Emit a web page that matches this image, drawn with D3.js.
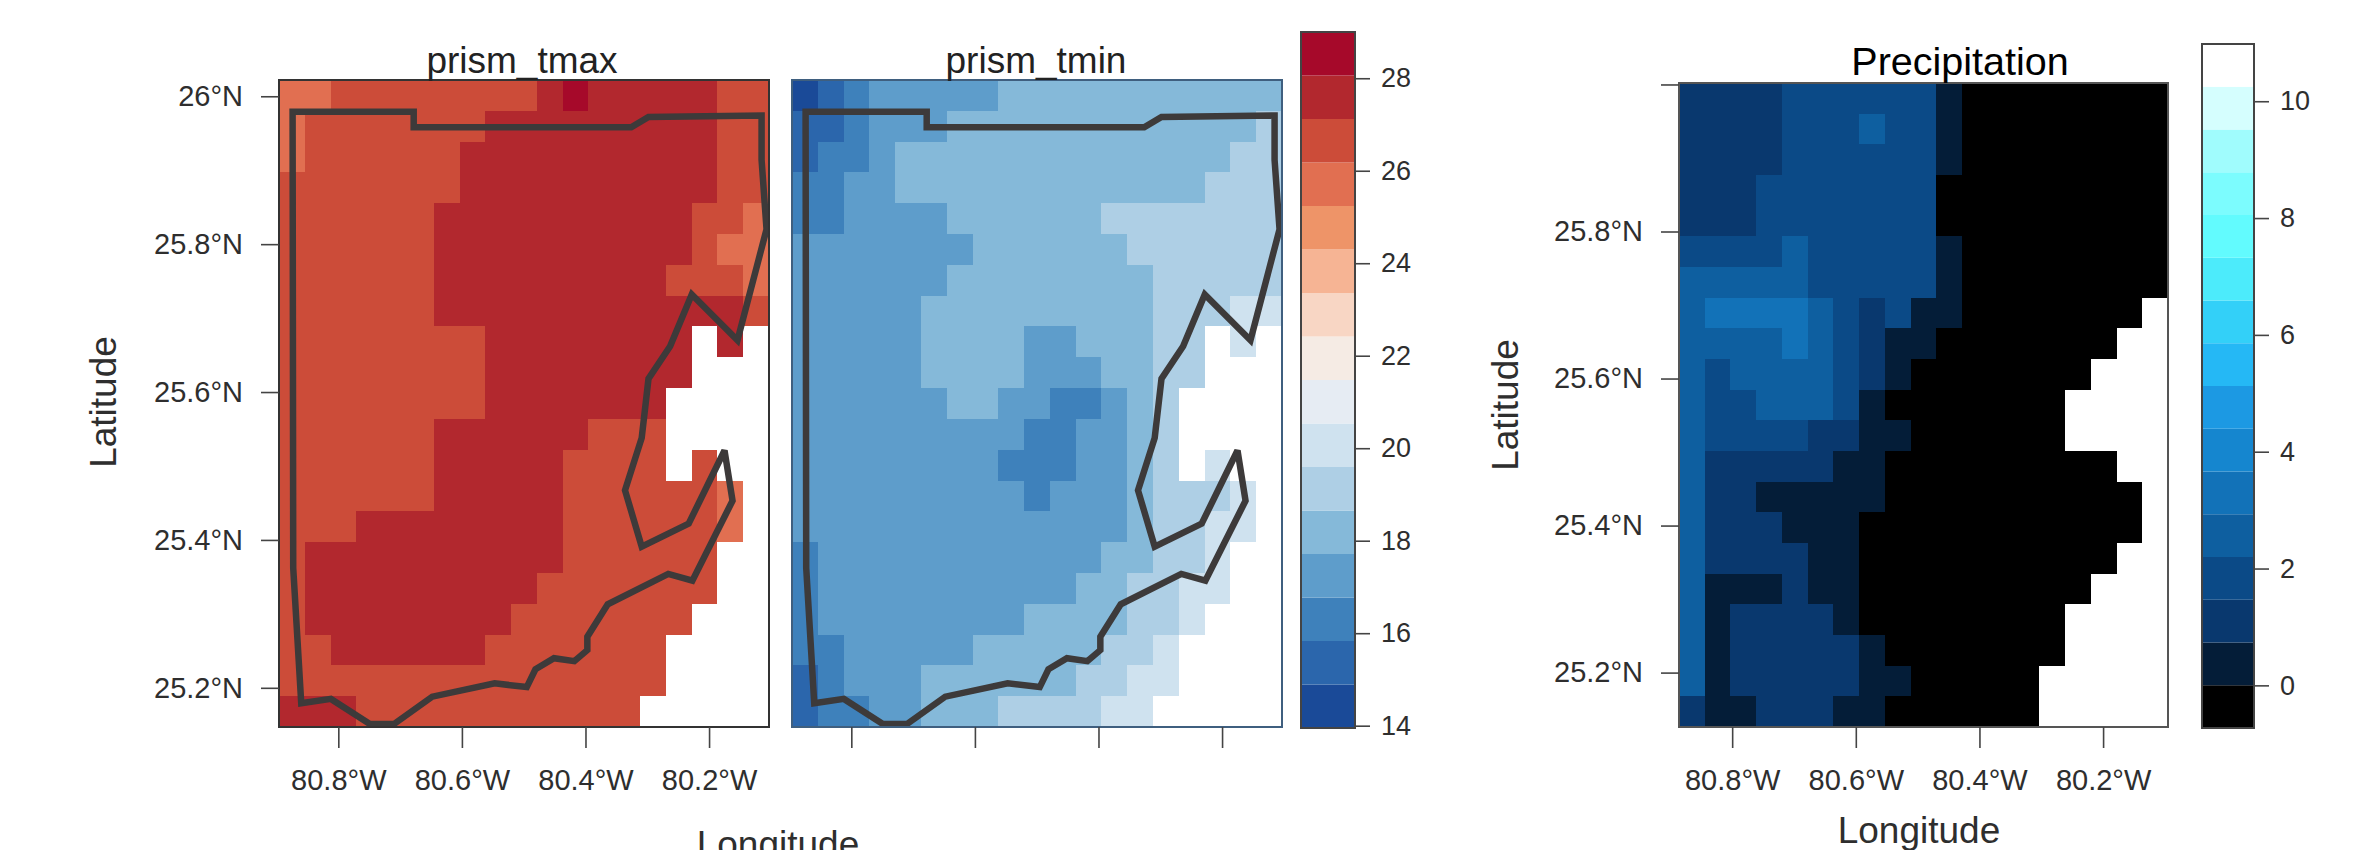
<!DOCTYPE html>
<html>
<head>
<meta charset="utf-8">
<script src="https://cdnjs.cloudflare.com/ajax/libs/d3/7.8.5/d3.min.js"></script>
<style>
  body { margin: 0; background: #fff; overflow: hidden; }
  text { font-family: "Liberation Sans", Arial, sans-serif; }
</style>
</head>
<body>
<script>
var latTicks = [26, 25.8, 25.6, 25.4, 25.2];
var lonTicks = [-80.8, -80.6, -80.4, -80.2];
var tempTicks = [14, 16, 18, 20, 22, 24, 26, 28];
var precipTicks = [0, 2, 4, 6, 8, 10];

var tempColors = ["#1a4a98", "#2b66ac", "#3e81bb", "#5e9dcb", "#85b9d9", "#aecfe5", "#cfe2ef", "#e6ecf3",
  "#f5ebe4", "#f8d6c4", "#f6b494", "#ee9468", "#e16f51", "#cc4c39", "#b2282e", "#a6092a"];
var precipColors = ["#000000", "#041d38", "#09386e", "#0b4a87", "#0e5fa0", "#1272b8", "#1586cf", "#1c99e3",
  "#25b8f5", "#33d0f8", "#4cebfb", "#62fbfe", "#7cfcfe", "#a0fcfd", "#d5fefe", "#ffffff"];

var tmax = [
  [25.7,25.7,26.7,26.7,26.7,26.7,26.7,26.7,26.7,26.7,27.6,28.5,27.6,27.6,27.6,27.6,27.6,26.7,26.7],
  [25.7,26.7,26.7,26.7,26.7,26.7,26.7,26.7,27.6,27.6,27.6,27.6,27.6,27.6,27.6,27.6,27.6,26.7,26.7],
  [25.7,26.7,26.7,26.7,26.7,26.7,26.7,27.6,27.6,27.6,27.6,27.6,27.6,27.6,27.6,27.6,27.6,26.7,26.7],
  [26.7,26.7,26.7,26.7,26.7,26.7,26.7,27.6,27.6,27.6,27.6,27.6,27.6,27.6,27.6,27.6,27.6,26.7,26.7],
  [26.7,26.7,26.7,26.7,26.7,26.7,27.6,27.6,27.6,27.6,27.6,27.6,27.6,27.6,27.6,27.6,26.7,26.7,25.7],
  [26.7,26.7,26.7,26.7,26.7,26.7,27.6,27.6,27.6,27.6,27.6,27.6,27.6,27.6,27.6,27.6,26.7,25.7,25.7],
  [26.7,26.7,26.7,26.7,26.7,26.7,27.6,27.6,27.6,27.6,27.6,27.6,27.6,27.6,27.6,26.7,26.7,26.7,25.7],
  [26.7,26.7,26.7,26.7,26.7,26.7,27.6,27.6,27.6,27.6,27.6,27.6,27.6,27.6,27.6,27.6,27.6,27.6,26.7],
  [26.7,26.7,26.7,26.7,26.7,26.7,26.7,26.7,27.6,27.6,27.6,27.6,27.6,27.6,27.6,27.6,null,27.6,null],
  [26.7,26.7,26.7,26.7,26.7,26.7,26.7,26.7,27.6,27.6,27.6,27.6,27.6,27.6,27.6,27.6,null,null,null],
  [26.7,26.7,26.7,26.7,26.7,26.7,26.7,26.7,27.6,27.6,27.6,27.6,27.6,27.6,27.6,null,null,null,null],
  [26.7,26.7,26.7,26.7,26.7,26.7,27.6,27.6,27.6,27.6,27.6,27.6,26.7,26.7,26.7,null,null,null,null],
  [26.7,26.7,26.7,26.7,26.7,26.7,27.6,27.6,27.6,27.6,27.6,26.7,26.7,26.7,26.7,null,26.7,null,null],
  [26.7,26.7,26.7,26.7,26.7,26.7,27.6,27.6,27.6,27.6,27.6,26.7,26.7,26.7,26.7,26.7,26.7,25.7,null],
  [26.7,26.7,26.7,27.6,27.6,27.6,27.6,27.6,27.6,27.6,27.6,26.7,26.7,26.7,26.7,26.7,26.7,25.7,null],
  [26.7,27.6,27.6,27.6,27.6,27.6,27.6,27.6,27.6,27.6,27.6,26.7,26.7,26.7,26.7,26.7,26.7,null,null],
  [26.7,27.6,27.6,27.6,27.6,27.6,27.6,27.6,27.6,27.6,26.7,26.7,26.7,26.7,26.7,26.7,26.7,null,null],
  [26.7,27.6,27.6,27.6,27.6,27.6,27.6,27.6,27.6,26.7,26.7,26.7,26.7,26.7,26.7,26.7,null,null,null],
  [26.7,26.7,27.6,27.6,27.6,27.6,27.6,27.6,26.7,26.7,26.7,26.7,26.7,26.7,26.7,null,null,null,null],
  [26.7,26.7,26.7,26.7,26.7,26.7,26.7,26.7,26.7,26.7,26.7,26.7,26.7,26.7,26.7,null,null,null,null],
  [27.6,27.6,27.6,26.7,26.7,26.7,26.7,26.7,26.7,26.7,26.7,26.7,26.7,26.7,null,null,null,null,null]
];

var tmin = [
  [14.5,15.4,16.3,17.3,17.3,17.3,17.3,17.3,18.2,18.2,18.2,18.2,18.2,18.2,18.2,18.2,18.2,18.2,18.2],
  [15.4,15.4,16.3,17.3,17.3,17.3,18.2,18.2,18.2,18.2,18.2,18.2,18.2,18.2,18.2,18.2,18.2,18.2,19.2],
  [15.4,16.3,16.3,17.3,18.2,18.2,18.2,18.2,18.2,18.2,18.2,18.2,18.2,18.2,18.2,18.2,18.2,19.2,19.2],
  [16.3,16.3,17.3,17.3,18.2,18.2,18.2,18.2,18.2,18.2,18.2,18.2,18.2,18.2,18.2,18.2,19.2,19.2,19.2],
  [16.3,16.3,17.3,17.3,17.3,17.3,18.2,18.2,18.2,18.2,18.2,18.2,19.2,19.2,19.2,19.2,19.2,19.2,19.2],
  [17.3,17.3,17.3,17.3,17.3,17.3,17.3,18.2,18.2,18.2,18.2,18.2,18.2,19.2,19.2,19.2,19.2,19.2,19.2],
  [17.3,17.3,17.3,17.3,17.3,17.3,18.2,18.2,18.2,18.2,18.2,18.2,18.2,18.2,19.2,19.2,19.2,19.2,19.2],
  [17.3,17.3,17.3,17.3,17.3,18.2,18.2,18.2,18.2,18.2,18.2,18.2,18.2,18.2,19.2,19.2,19.2,20.1,20.1],
  [17.3,17.3,17.3,17.3,17.3,18.2,18.2,18.2,18.2,17.3,17.3,18.2,18.2,18.2,19.2,19.2,null,20.1,null],
  [17.3,17.3,17.3,17.3,17.3,18.2,18.2,18.2,18.2,17.3,17.3,17.3,18.2,18.2,19.2,19.2,null,null,null],
  [17.3,17.3,17.3,17.3,17.3,17.3,18.2,18.2,17.3,17.3,16.3,16.3,17.3,18.2,19.2,null,null,null,null],
  [17.3,17.3,17.3,17.3,17.3,17.3,17.3,17.3,17.3,16.3,16.3,17.3,17.3,18.2,19.2,null,null,null,null],
  [17.3,17.3,17.3,17.3,17.3,17.3,17.3,17.3,16.3,16.3,16.3,17.3,17.3,18.2,19.2,null,20.1,null,null],
  [17.3,17.3,17.3,17.3,17.3,17.3,17.3,17.3,17.3,16.3,17.3,17.3,17.3,18.2,19.2,19.2,19.2,20.1,null],
  [17.3,17.3,17.3,17.3,17.3,17.3,17.3,17.3,17.3,17.3,17.3,17.3,17.3,18.2,19.2,19.2,20.1,20.1,null],
  [16.3,17.3,17.3,17.3,17.3,17.3,17.3,17.3,17.3,17.3,17.3,17.3,18.2,18.2,19.2,19.2,20.1,null,null],
  [16.3,17.3,17.3,17.3,17.3,17.3,17.3,17.3,17.3,17.3,17.3,18.2,18.2,19.2,19.2,20.1,20.1,null,null],
  [16.3,17.3,17.3,17.3,17.3,17.3,17.3,17.3,17.3,18.2,18.2,18.2,18.2,19.2,19.2,20.1,null,null,null],
  [16.3,16.3,17.3,17.3,17.3,17.3,17.3,18.2,18.2,18.2,18.2,18.2,19.2,19.2,20.1,null,null,null,null],
  [15.4,16.3,17.3,17.3,17.3,18.2,18.2,18.2,18.2,18.2,18.2,19.2,19.2,20.1,20.1,null,null,null,null],
  [15.4,16.3,16.3,17.3,17.3,18.2,18.2,18.2,19.2,19.2,19.2,19.2,20.1,20.1,null,null,null,null,null]
];

var precip = [
  [1.1,1.1,1.1,1.1,1.8,1.8,1.8,1.8,1.8,1.8,0.4,0,0,0,0,0,0,0,0],
  [1.1,1.1,1.1,1.1,1.8,1.8,1.8,2.5,1.8,1.8,0.4,0,0,0,0,0,0,0,0],
  [1.1,1.1,1.1,1.1,1.8,1.8,1.8,1.8,1.8,1.8,0.4,0,0,0,0,0,0,0,0],
  [1.1,1.1,1.1,1.8,1.8,1.8,1.8,1.8,1.8,1.8,0,0,0,0,0,0,0,0,0],
  [1.1,1.1,1.1,1.8,1.8,1.8,1.8,1.8,1.8,1.8,0,0,0,0,0,0,0,0,0],
  [1.8,1.8,1.8,1.8,2.5,1.8,1.8,1.8,1.8,1.8,0.4,0,0,0,0,0,0,0,0],
  [2.5,2.5,2.5,2.5,2.5,1.8,1.8,1.8,1.8,1.8,0.4,0,0,0,0,0,0,0,0],
  [2.5,3.3,3.3,3.3,3.3,2.5,1.8,1.1,1.8,0.4,0.4,0,0,0,0,0,0,0,null],
  [2.5,2.5,2.5,2.5,3.3,2.5,1.8,1.1,0.4,0.4,0,0,0,0,0,0,0,null,null],
  [2.5,1.8,2.5,2.5,2.5,2.5,1.8,1.1,0.4,0,0,0,0,0,0,0,null,null,null],
  [2.5,1.8,1.8,2.5,2.5,2.5,1.8,0.4,0,0,0,0,0,0,0,null,null,null,null],
  [2.5,1.8,1.8,1.8,1.8,1.1,1.1,0.4,0.4,0,0,0,0,0,0,null,null,null,null],
  [2.5,1.1,1.1,1.1,1.1,1.1,0.4,0.4,0,0,0,0,0,0,0,0,0,null,null],
  [2.5,1.1,1.1,0.4,0.4,0.4,0.4,0.4,0,0,0,0,0,0,0,0,0,0,null],
  [2.5,1.1,1.1,1.1,0.4,0.4,0.4,0,0,0,0,0,0,0,0,0,0,0,null],
  [2.5,1.1,1.1,1.1,1.1,0.4,0.4,0,0,0,0,0,0,0,0,0,0,null,null],
  [2.5,0.4,0.4,0.4,1.1,0.4,0.4,0,0,0,0,0,0,0,0,0,null,null,null],
  [2.5,0.4,1.1,1.1,1.1,1.1,0.4,0,0,0,0,0,0,0,0,null,null,null,null],
  [2.5,0.4,1.1,1.1,1.1,1.1,1.1,0.4,0,0,0,0,0,0,0,null,null,null,null],
  [2.5,0.4,1.1,1.1,1.1,1.1,1.1,0.4,0.4,0,0,0,0,0,null,null,null,null,null],
  [1.1,0.4,0.4,1.1,1.1,1.1,0.4,0.4,0,0,0,0,0,0,null,null,null,null,null]
];

// county outline, lon then lat
var outlineLon = [-80.874,-80.678,-80.678,-80.326,-80.298,-80.115,-80.115,-80.107,-80.154,-80.228,-80.263,-80.298,
  -80.309,-80.336,-80.309,-80.233,-80.175,-80.162,-80.227,-80.266,-80.364,-80.397,-80.397,-80.418,-80.451,-80.481,
  -80.495,-80.547,-80.648,-80.710,-80.749,-80.812,-80.860,-80.873];
var outlineLat = [25.979,25.979,25.958,25.958,25.972,25.974,25.914,25.820,25.670,25.732,25.662,25.618,
  25.538,25.467,25.391,25.422,25.521,25.453,25.345,25.354,25.313,25.269,25.251,25.236,25.240,25.225,
  25.201,25.206,25.188,25.151,25.151,25.185,25.179,25.362];

var svg = d3.select("body").append("svg")
  .attr("width", 2379)
  .attr("height", 850);

var inkColor = "#333";

function lonLabel(d) { return Math.abs(d).toFixed(1) + "\u00b0W"; }
function latLabel(d) { return d === 26 ? "26\u00b0N" : d.toFixed(1) + "\u00b0N"; }

function styleAxis(g, size) {
  g.select(".domain").remove();
  g.selectAll(".tick line").attr("stroke", "#444").attr("stroke-width", 1.6);
  g.selectAll("text")
    .attr("fill", "#2e2e2e")
    .attr("font-size", size)
    .attr("font-family", '"Liberation Sans", Arial, sans-serif');
}

function drawPanel(opt) {
  var x = d3.scaleLinear().domain(opt.lonDomain).range([opt.left, opt.right]);
  var y = d3.scaleLinear().domain(opt.latDomain).range([opt.bottom, opt.top]);
  var col = d3.scaleBand().domain(d3.range(opt.values[0].length)).range([opt.left, opt.right]);
  var row = d3.scaleBand().domain(d3.range(opt.values.length)).range([opt.top, opt.bottom]);

  var cells = [];
  opt.values.forEach(function(r, i) {
    r.forEach(function(v, j) {
      if (v !== null) cells.push({ row: i, col: j, value: v });
    });
  });

  var g = svg.append("g");
  g.selectAll("rect.cell")
    .data(cells)
    .enter().append("rect")
    .attr("class", "cell")
    .attr("x", function(d) { return col(d.col); })
    .attr("y", function(d) { return row(d.row); })
    .attr("width", col.bandwidth())
    .attr("height", row.bandwidth())
    .attr("shape-rendering", "crispEdges")
    .attr("fill", function(d) { return opt.color(d.value); });

  if (opt.outline) {
    var line = d3.line()
      .x(function(d) { return x(outlineLon[d]); })
      .y(function(d) { return y(outlineLat[d]); })
      .curve(d3.curveLinearClosed);
    g.append("path")
      .attr("d", line(d3.range(outlineLon.length)))
      .attr("fill", "none")
      .attr("stroke", "#3d3a3a")
      .attr("stroke-width", 6.5)
      .attr("stroke-linejoin", "miter")
      .attr("stroke-miterlimit", 2.5);
  }

  g.append("rect")
    .attr("x", opt.left)
    .attr("y", opt.top)
    .attr("width", opt.right - opt.left)
    .attr("height", opt.bottom - opt.top)
    .attr("fill", "none")
    .attr("stroke", opt.frame || inkColor)
    .attr("stroke-width", 2);

  var bottomAxis = d3.axisBottom(x)
    .tickValues(lonTicks)
    .tickSize(21)
    .tickPadding(21)
    .tickFormat(opt.lonLabels ? lonLabel : "");
  svg.append("g")
    .attr("transform", "translate(0," + opt.bottom + ")")
    .call(bottomAxis)
    .call(styleAxis, 29);

  if (opt.latLabels) {
    var leftAxis = d3.axisLeft(y)
      .tickValues(latTicks)
      .tickSize(18)
      .tickPadding(18)
      .tickFormat(opt.latLabels);
    svg.append("g")
      .attr("transform", "translate(" + opt.left + ",0)")
      .call(leftAxis)
      .call(styleAxis, 29);
  }
}

function drawColorbar(opt) {
  var y = d3.scaleLinear().domain(opt.domain).range([opt.bottom, opt.top]);
  var step = (opt.domain[1] - opt.domain[0]) / opt.colors.length;
  var g = svg.append("g");

  g.selectAll("rect.bin")
    .data(opt.colors)
    .enter().append("rect")
    .attr("class", "bin")
    .attr("x", opt.left)
    .attr("y", function(d, i) { return y(opt.domain[0] + (i + 1) * step); })
    .attr("width", opt.right - opt.left)
    .attr("height", function() { return y(opt.domain[0]) - y(opt.domain[0] + step); })
    .attr("fill", function(d) { return d; });

  g.append("rect")
    .attr("x", opt.left)
    .attr("y", opt.top)
    .attr("width", opt.right - opt.left)
    .attr("height", opt.bottom - opt.top)
    .attr("fill", "none")
    .attr("stroke", "#444")
    .attr("stroke-width", 2);

  var axis = d3.axisRight(y)
    .tickValues(opt.ticks)
    .tickSize(15)
    .tickPadding(11)
    .tickFormat(d3.format("d"));
  svg.append("g")
    .attr("transform", "translate(" + opt.right + ",0)")
    .call(axis)
    .call(styleAxis, 27);
}

function addText(label, x, y, size, fill, rotate) {
  var t = svg.append("text")
    .attr("text-anchor", "middle")
    .attr("font-size", size)
    .attr("fill", fill)
    .text(label);
  if (rotate) t.attr("transform", "translate(" + x + "," + y + ") rotate(-90)");
  else t.attr("x", x).attr("y", y);
}

var tempColor = d3.scaleQuantize().domain([14, 29]).range(tempColors);
var precipColor = d3.scaleQuantize().domain([-0.73, 10.98]).range(precipColors);

drawPanel({
  values: tmax, color: tempColor, outline: true,
  left: 279, right: 769, top: 80, bottom: 727,
  lonDomain: [-80.896, -80.103], latDomain: [25.147, 26.022],
  lonLabels: true, latLabels: latLabel
});
drawPanel({
  values: tmin, color: tempColor, outline: true, frame: "#3f5f7f",
  left: 792, right: 1282, top: 80, bottom: 727,
  lonDomain: [-80.896, -80.103], latDomain: [25.147, 26.022],
  lonLabels: false, latLabels: null
});
drawPanel({
  values: precip, color: precipColor, outline: false, frame: "#555",
  left: 1679, right: 2168, top: 83, bottom: 727,
  lonDomain: [-80.886, -80.095], latDomain: [25.126, 26.002],
  lonLabels: true,
  latLabels: function(d) { return d === 26 ? "" : latLabel(d); }
});

drawColorbar({ colors: tempColors, domain: [13.95, 29], ticks: tempTicks, left: 1301, right: 1355, top: 32, bottom: 728 });
drawColorbar({ colors: precipColors, domain: [-0.73, 10.98], ticks: precipTicks, left: 2202, right: 2254, top: 44, bottom: 728 });

addText("prism_tmax", 522, 73, 37, "#222");
addText("prism_tmin", 1036, 73, 37, "#222");
addText("Precipitation", 1960, 75, 39.5, "#000");
addText("Longitude", 778, 857, 37, "#2e2e2e");
addText("Longitude", 1919, 843, 37, "#2e2e2e");
addText("Latitude", 116, 402, 37, "#2e2e2e", true);
addText("Latitude", 1518, 405, 37, "#2e2e2e", true);
</script>
</body>
</html>
